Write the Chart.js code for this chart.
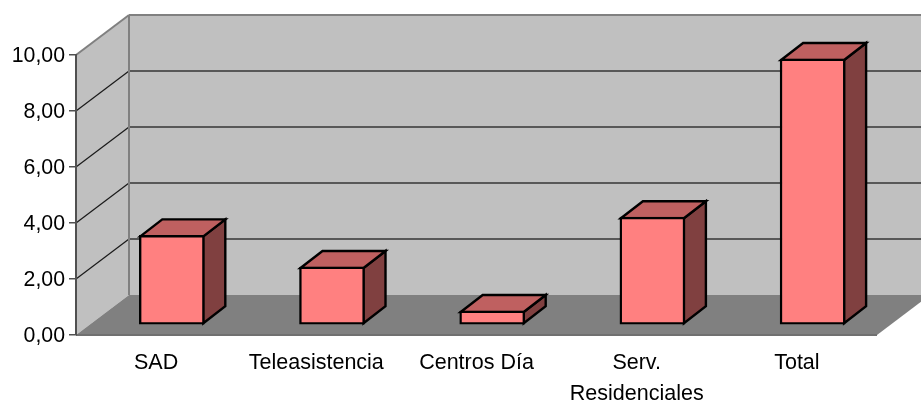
<!DOCTYPE html>
<html><head><meta charset="utf-8">
<style>html,body{margin:0;padding:0;background:#fff}canvas{display:block}</style>
<script src="https://cdn.jsdelivr.net/npm/chart.js@4"></script></head>
<body><canvas id="c" width="921" height="400"></canvas>
<script>
const categories = ["SAD","Teleasistencia","Centros Día",["Serv.","Residenciales"],"Total"];
const values = [3.2,2.07,0.5,3.85,9.5];
const yMin = 0, yMax = 10, yStep = 2;
const FONT_FAMILY = "'Liberation Sans', Arial, sans-serif";
const WALL = {dx:53, dy:-40}, BAR_SHIFT = {dx:15.7, dy:-10}, BAR_DEPTH = {dx:22, dy:-17};

function poly(ctx, pts, fill, stroke, lw){
  ctx.beginPath();
  pts.forEach((p,i)=> i? ctx.lineTo(p[0],p[1]) : ctx.moveTo(p[0],p[1]));
  ctx.closePath();
  if(fill){ctx.fillStyle=fill;ctx.fill();}
  if(stroke){ctx.strokeStyle=stroke;ctx.lineWidth=lw;ctx.lineJoin='miter';ctx.stroke();}
}
function seg(ctx,a,b,col,lw){ctx.beginPath();ctx.moveTo(a[0],a[1]);ctx.lineTo(b[0],b[1]);ctx.strokeStyle=col;ctx.lineWidth=lw;ctx.stroke();}

const box3d = {
  id:'box3d',
  beforeDraw(chart){
    const {ctx,chartArea:a,scales:{y}} = chart;
    if(!y._shifted){
      const orig=y.drawLabels;
      y.drawLabels=function(ca){ctx.save();ctx.translate(0,1);orig.call(this,ca);ctx.restore();};
      y._shifted=true;
    }
    const L=a.left,R=a.right,T=y.getPixelForValue(yMax),B=y.getPixelForValue(yMin);
    const dx=WALL.dx,dy=WALL.dy;
    ctx.save();
    poly(ctx,[[L,B],[L+dx,B+dy],[L+dx,T+dy],[L,T]],'#C0C0C0');
    poly(ctx,[[L+dx,B+dy],[R+dx,B+dy],[R+dx,T+dy],[L+dx,T+dy]],'#C0C0C0');
    poly(ctx,[[L,B],[L+dx,B+dy],[R+dx,B+dy],[R,B]],'#808080');
    for(let v=yMin+yStep;v<yMax;v+=yStep){
      const p=y.getPixelForValue(v);
      seg(ctx,[L,p],[L+dx,p+dy],'#1a1a1a',1.2);
      seg(ctx,[L+dx,p+dy],[R+dx,p+dy],'#585858',2);
    }
    seg(ctx,[L,T],[L+dx,T+dy],'#808080',2);
    seg(ctx,[L+dx,T+dy],[R+dx,T+dy],'#808080',2);
    seg(ctx,[L+dx,T+dy],[L+dx,B+dy],'#808080',2);
    seg(ctx,[L,B],[R,B],'#707070',2);
    ctx.restore();
  },
  beforeDatasetDraw(chart,args){
    const ctx=chart.ctx, meta=args.meta;
    ctx.save();
    ctx.translate(BAR_SHIFT.dx,BAR_SHIFT.dy);
    meta.data.forEach(el=>{
      const p=el.getProps(['x','y','base','width'],true);
      const l=p.x-p.width/2+1,r=p.x+p.width/2-1,t=p.y+1,b=p.base-1;
      const dx=BAR_DEPTH.dx,dy=BAR_DEPTH.dy;
      poly(ctx,[[r,t],[r+dx,t+dy],[r+dx,b+dy],[r,b]],'#804040','#000',2.4);
      poly(ctx,[[l,t],[l+dx,t+dy],[r+dx,t+dy],[r,t]],'#BF6060','#000',2.4);
    });
  },
  afterDatasetDraw(chart){ chart.ctx.restore(); }
};

new Chart(document.getElementById('c'),{
  type:'bar',
  data:{labels:categories,datasets:[{data:values,backgroundColor:'#FF8080',borderColor:'#000',borderWidth:2.4,borderSkipped:false,barThickness:65}]},
  options:{
    responsive:false,animation:false,
    layout:{padding:{top:55,right:44,left:0,bottom:0}},
    plugins:{legend:{display:false},tooltip:{enabled:false},title:{display:false}},
    scales:{
      x:{
        grid:{display:false},border:{display:false},
        ticks:{color:'#000',font:{family:FONT_FAMILY,size:21.5,lineHeight:1.47},padding:4,maxRotation:0,autoSkip:false},
        afterFit(s){s.height=65;}
      },
      y:{
        min:yMin,max:yMax,
        grid:{drawOnChartArea:false,drawTicks:true,tickLength:7,color:'#505050',lineWidth:1.5},
        border:{display:true,color:'#505050',width:2},
        ticks:{stepSize:yStep,color:'#000',font:{family:FONT_FAMILY,size:21.3},padding:4,callback:v=>v.toFixed(2).replace('.',',')},
        afterFit(s){s.width=76;}
      }
    }
  },
  plugins:[box3d]
});
</script></body></html>
